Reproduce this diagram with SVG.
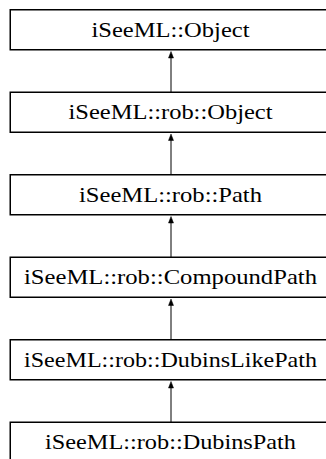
<svg xmlns="http://www.w3.org/2000/svg" width="326" height="459" viewBox="0 0 326 459">
<style>
.box{fill:#fff;stroke:#000;stroke-width:1.5}
.lbl{font-family:"Liberation Serif","Times New Roman",serif;font-size:21px;fill:#000;text-anchor:middle}
.edge{stroke:#000;stroke-width:1;fill:none}
.head{fill:#000;stroke:#000;stroke-width:0.5}
</style>
<rect width="326" height="459" fill="#fff"/>
<g id="connectors">
<line class="edge" x1="171" y1="56" x2="171" y2="92"/><polygon class="head" points="171,51.5 168.5,58 173.5,58"/>
<line class="edge" x1="171" y1="138.5" x2="171" y2="174.5"/><polygon class="head" points="171,134 168.5,140.5 173.5,140.5"/>
<line class="edge" x1="171" y1="221" x2="171" y2="257"/><polygon class="head" points="171,216.5 168.5,223 173.5,223"/>
<line class="edge" x1="171" y1="303.5" x2="171" y2="339.5"/><polygon class="head" points="171,299 168.5,305.5 173.5,305.5"/>
<line class="edge" x1="171" y1="386" x2="171" y2="422"/><polygon class="head" points="171,381.5 168.5,388 173.5,388"/>
</g>
<g id="n1"><rect class="box" x="10.25" y="9.75" width="322" height="40"/><text class="lbl" x="170.5" y="36.5" textLength="158" lengthAdjust="spacingAndGlyphs">iSeeML::Object</text></g>
<g id="n2"><rect class="box" x="10.25" y="92.25" width="322" height="40"/><text class="lbl" x="170.5" y="119" textLength="204" lengthAdjust="spacingAndGlyphs">iSeeML::rob::Object</text></g>
<g id="n3"><rect class="box" x="10.25" y="174.75" width="322" height="40"/><text class="lbl" x="170.5" y="201.5" textLength="183" lengthAdjust="spacingAndGlyphs">iSeeML::rob::Path</text></g>
<g id="n4"><rect class="box" x="10.25" y="257.25" width="322" height="40"/><text class="lbl" x="170.5" y="284" textLength="293" lengthAdjust="spacingAndGlyphs">iSeeML::rob::CompoundPath</text></g>
<g id="n5"><rect class="box" x="10.25" y="339.75" width="322" height="40"/><text class="lbl" x="170.5" y="366.5" textLength="293" lengthAdjust="spacingAndGlyphs">iSeeML::rob::DubinsLikePath</text></g>
<g id="n6"><rect class="box" x="10.25" y="422.25" width="322" height="40"/><text class="lbl" x="170.5" y="449" textLength="251" lengthAdjust="spacingAndGlyphs">iSeeML::rob::DubinsPath</text></g>
</svg>
